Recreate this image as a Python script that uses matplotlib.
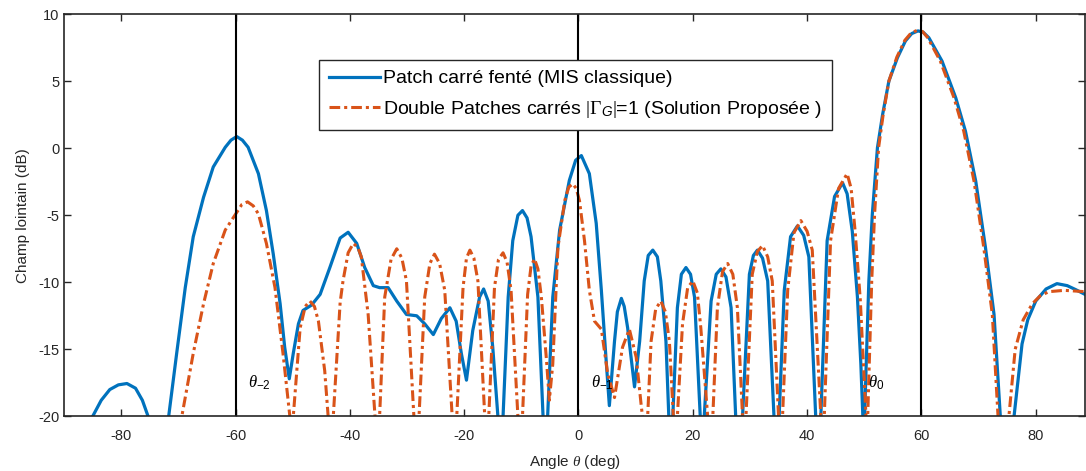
import numpy as np
import matplotlib.pyplot as plt

plt.rcParams['font.family'] = ['Liberation Sans', 'DejaVu Sans']
plt.rcParams['mathtext.fontset'] = 'custom'
plt.rcParams['mathtext.rm'] = 'Liberation Serif'
plt.rcParams['mathtext.sf'] = 'Liberation Sans'
plt.rcParams['mathtext.it'] = 'Liberation Serif:italic'
plt.rcParams['mathtext.bf'] = 'Liberation Sans:italic'
plt.rcParams['axes.unicode_minus'] = False

# blue curve: slotted square patch (classic MIS)
mis_x = [-86.5, -85.0, -83.5, -82.0, -80.5, -79.0, -77.5, -76.3, -75.3, -73.5, -71.7, -70.3,
         -68.8, -67.4, -65.6, -63.9, -61.8, -60.8, -59.8, -58.8, -57.8, -56.0, -54.6, -53.4,
         -52.2, -51.4, -50.6, -49.9, -49.0, -48.2, -46.7, -45.2, -43.5, -41.7, -40.3, -38.8,
         -37.4, -35.9, -34.8, -33.3, -31.8, -30.1, -28.3, -26.9, -25.4, -24.0, -22.5, -21.4,
         -20.5, -19.6, -18.5, -17.3, -16.6, -15.8, -15.0, -14.1, -13.65, -13.2, -12.3, -11.5,
         -10.6, -9.8, -9.0, -8.3, -7.1, -6.2, -5.8, -5.4, -4.5, -3.3, -1.6, -0.5,
         0.5, 1.9, 3.1, 4.0, 4.8, 5.4, 6.3, 6.8, 7.5, 8.0, 8.6, 9.8,
         10.7, 11.5, 12.2, 13.0, 13.8, 14.4, 15.3, 15.8, 16.15, 16.5, 17.3, 18.0,
         18.8, 19.6, 20.3, 21.3, 21.65, 22.0, 23.2, 24.1, 24.9, 25.8, 26.7, 27.5,
         28.1, 28.7, 29.9, 30.6, 31.3, 32.2, 33.1, 34.2, 34.65, 35.1, 36.0, 37.1,
         38.3, 39.4, 40.3, 41.5, 41.95, 42.4, 43.5, 44.8, 46.2, 47.0, 47.9, 48.8,
         49.4, 49.75, 49.9, 50.05, 50.8, 51.4, 52.3, 53.2, 54.3, 55.8, 57.2, 58.3,
         59.4, 60.3, 61.3, 63.6, 66.0, 67.7, 69.5, 71.2, 72.7, 73.8, 75.0, 76.2,
         77.6, 78.6, 80.0, 81.8, 83.7, 85.5, 87.0, 88.6]
mis_y = [-22.0, -20.0, -18.8, -18.0, -17.65, -17.55, -17.9, -18.8, -20.0, -30.0, -20.0, -15.3,
         -10.4, -6.6, -3.66, -1.4, 0.07, 0.6, 0.87, 0.6, 0.07, -1.9, -4.65, -7.9,
         -11.6, -14.85, -17.2, -15.3, -13.1, -12.1, -11.7, -10.9, -8.9, -6.7, -6.27, -7.1,
         -8.9, -10.25, -10.4, -10.4, -11.4, -12.4, -12.5, -13.1, -13.9, -12.7, -11.9, -12.9,
         -15.3, -17.3, -13.6, -11.1, -10.5, -11.4, -14.85, -20.0, -30.0, -20.0, -11.1, -6.9,
         -5.0, -4.65, -5.2, -6.6, -11.1, -20.0, -30.0, -20.0, -11.1, -6.1, -2.4, -0.9,
         -0.55, -1.9, -5.6, -10.6, -15.6, -19.2, -14.4, -12.2, -11.2, -11.8, -13.4, -17.8,
         -14.4, -9.9, -8.0, -7.6, -8.1, -9.9, -14.4, -20.0, -30.0, -20.0, -11.9, -9.4,
         -8.9, -9.4, -11.1, -20.0, -30.0, -20.0, -11.4, -9.4, -9.0, -9.6, -11.9, -20.0,
         -30.0, -20.0, -9.4, -8.0, -7.6, -8.2, -9.9, -20.0, -30.0, -20.0, -10.6, -6.6,
         -5.8, -6.5, -8.1, -20.0, -30.0, -20.0, -6.9, -3.6, -2.58, -3.4, -6.2, -11.1,
         -16.1, -20.0, -30.0, -20.0, -9.9, -4.95, 0.03, 2.5, 5.0, 6.75, 8.0, 8.55,
         8.75, 8.65, 8.24, 6.5, 3.76, 1.27, -2.46, -7.4, -12.4, -20.0, -30.0, -20.0,
         -14.6, -12.8, -11.4, -10.5, -10.1, -10.25, -10.55, -10.9]

# red dash-dot curve: double square patches |Gamma_G|=1 (proposed solution)
dp_x = [-70.0, -69.4, -67.4, -65.6, -63.9, -61.8, -59.8, -58.9, -57.9, -56.9, -56.0, -54.6,
        -53.1, -51.7, -50.5, -50.2, -49.9, -48.7, -47.8, -47.0, -46.2, -45.5, -44.4, -43.8,
        -43.35, -42.9, -41.7, -41.2, -40.3, -39.4, -38.6, -38.0, -36.8, -35.6, -35.2, -34.8,
        -33.9, -32.8, -31.8, -30.9, -30.1, -28.8, -28.35, -27.9, -26.9, -26.0, -25.2, -24.3,
        -23.4, -22.1, -21.7, -21.3, -20.2, -19.6, -19.0, -18.3, -17.6, -16.4, -16.05, -15.7,
        -14.7, -14.0, -13.2, -12.5, -11.8, -10.6, -10.2, -9.8, -8.9, -8.3, -7.7, -7.1,
        -6.5, -5.6, -5.1, -4.5, -3.6, -2.4, -1.7, -1.0, -0.4, 0.17, 1.05, 1.9,
        2.8, 4.0, 5.1, 6.3, 7.7, 8.9, 10.1, 11.0, 11.2, 11.6, 12.1, 12.7,
        13.5, 14.4, 15.2, 15.9, 16.6, 16.95, 17.3, 18.2, 19.1, 20.0, 20.8, 21.4,
        22.6, 23.05, 23.5, 24.3, 25.2, 26.1, 27.0, 27.8, 28.7, 29.0, 29.3, 30.4,
        31.3, 32.2, 33.1, 33.9, 35.0, 35.35, 35.7, 36.6, 37.7, 38.9, 40.0, 40.9,
        42.4, 42.7, 43.0, 44.1, 45.5, 47.0, 47.7, 48.4, 49.3, 49.9, 50.3, 50.45,
        50.6, 51.3, 51.8, 52.5, 53.3, 54.3, 55.7, 57.1, 58.2, 59.3, 60.2, 61.1,
        63.3, 65.7, 67.4, 69.2, 70.9, 72.4, 73.4, 74.35, 75.3, 76.4, 77.8, 79.4,
        80.8, 82.3, 85.0, 88.6]
dp_y = [-25.0, -20.0, -15.3, -11.6, -8.6, -6.1, -4.8, -4.2, -4.0, -4.3, -4.9, -7.1,
        -10.4, -15.3, -20.0, -30.0, -20.0, -13.4, -11.8, -11.4, -11.8, -12.9, -16.6, -20.0,
        -30.0, -20.0, -11.5, -9.9, -7.8, -7.1, -7.4, -8.1, -12.4, -20.0, -30.0, -20.0,
        -11.1, -8.3, -7.5, -8.2, -9.9, -20.0, -30.0, -20.0, -11.1, -8.6, -7.9, -8.6,
        -10.6, -20.0, -30.0, -20.0, -10.4, -8.2, -7.6, -8.2, -9.9, -20.0, -30.0, -20.0,
        -10.4, -8.3, -7.8, -8.5, -10.6, -20.0, -30.0, -20.0, -10.9, -8.8, -8.25, -9.0,
        -11.1, -15.8, -18.8, -16.1, -7.4, -3.9, -2.9, -2.66, -3.0, -3.9, -6.9, -10.6,
        -12.9, -13.5, -16.8, -18.6, -14.85, -13.5, -15.6, -19.3, -20.0, -30.0, -20.0, -14.4,
        -12.0, -11.4, -12.2, -14.4, -20.0, -30.0, -20.0, -13.1, -10.4, -9.9, -10.8, -13.4,
        -20.0, -30.0, -20.0, -11.9, -9.2, -8.6, -9.4, -11.9, -20.0, -30.0, -20.0, -9.4,
        -7.7, -7.26, -8.1, -9.9, -20.0, -30.0, -20.0, -10.6, -6.3, -5.4, -6.2, -7.6,
        -20.0, -30.0, -20.0, -6.9, -3.0, -1.9, -3.0, -6.2, -11.3, -16.5, -20.0, -30.0,
        -20.0, -9.9, -4.95, 0.03, 2.5, 5.0, 6.8, 8.05, 8.6, 8.8, 8.7, 8.24,
        6.5, 3.76, 1.27, -2.46, -7.4, -12.4, -20.0, -30.0, -20.0, -15.0, -12.8, -11.6,
        -11.0, -10.7, -10.6, -10.7]

ref_angles = [-60, 0, 60]
ref_labels = [r'$\theta_{\mathsf{-2}}$', r'$\theta_{\mathsf{-1}}$', r'$\theta_{\mathsf{0}}$']
label_x = [-57.8, 2.2, 50.6]

blue = '#0072BD'
orange = '#D95319'
axcol = '#262626'

fig = plt.figure(figsize=(10.86, 4.71), dpi=100)
ax = fig.add_axes([0.059, 0.116, 0.940, 0.854])

ax.plot(mis_x, mis_y, color=blue, lw=2.3, solid_joinstyle='round',
        label='Patch carré fenté (MIS classique)')
ax.plot(dp_x, dp_y, color=orange, lw=2.2, linestyle=(0, (3.5, 1.3, 1.0, 1.3)),
        label=r'Double Patches carrés $|\Gamma_{\mathbf{G}}|$=1 (Solution Proposée )')

for a, lab, lx in zip(ref_angles, ref_labels, label_x):
    ax.axvline(a, color='black', lw=1.5)
    ax.text(lx, -17.5, lab, fontsize=12, ha='left', va='center')

ax.set_xlim(-90, 88.6)
ax.set_ylim(-20, 10)
ax.set_xticks(np.arange(-80, 81, 20))
ax.set_yticks(np.arange(-20, 11, 5))
ax.tick_params(direction='in', top=True, right=True, length=5, width=1,
               colors=axcol, labelsize=10.5, labelcolor=axcol)
ax.tick_params(axis='x', pad=9)
for s in ax.spines.values():
    s.set_color(axcol)
    s.set_linewidth(1.2)

ax.set_xlabel(r'Angle $\theta$ (deg)', fontsize=11, color=axcol, labelpad=7)
ax.set_ylabel('Champ lointain (dB)', fontsize=11, color=axcol, labelpad=6)

leg = ax.legend(loc='upper left', bbox_to_anchor=(0.25, 0.886), fontsize=14,
                frameon=True, fancybox=False, edgecolor=axcol, framealpha=1,
                handlelength=2.6, handletextpad=0.2, borderpad=0.5, labelspacing=0.6,
                borderaxespad=0)
leg.get_frame().set_linewidth(1.0)

fig.savefig('out.png', dpi=100)
